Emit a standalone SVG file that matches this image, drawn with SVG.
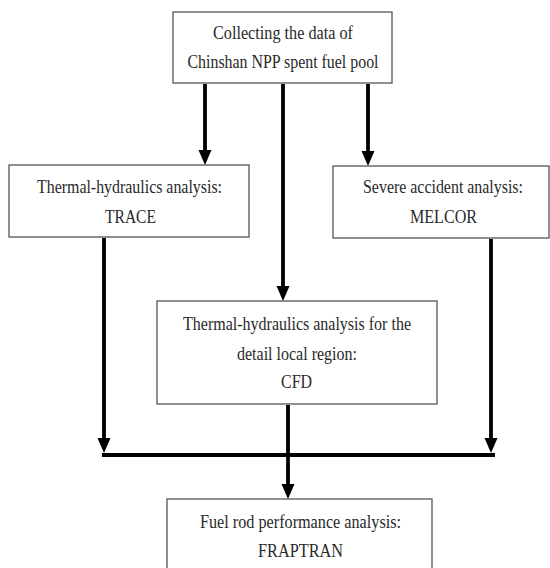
<svg xmlns="http://www.w3.org/2000/svg" width="550" height="568" viewBox="0 0 550 568">
<style>
.box{fill:#fff;stroke:#555;stroke-width:1.3}
.t{font-family:"Liberation Serif","Times New Roman",serif;font-size:18px;fill:#2a2a2a;text-anchor:middle}
.c{stroke:#000;stroke-width:3.8;fill:none}
.ah{fill:#000}
</style>
<rect width="550" height="568" fill="#fff"/>
<g id="connectors">
<line class="c" x1="205" y1="84" x2="205" y2="152"/>
<line class="c" x1="283" y1="84" x2="283" y2="288"/>
<line class="c" x1="368" y1="84" x2="368" y2="153"/>
<line class="c" x1="104" y1="238" x2="104" y2="440"/>
<line class="c" x1="491" y1="239" x2="491" y2="440"/>
<line class="c" x1="102" y1="455" x2="495" y2="455" stroke-width="4.2"/>
<line class="c" x1="288" y1="405" x2="288" y2="486"/>
<path class="ah" d="M198.5,150 L211.5,150 L205,165 Z"/>
<path class="ah" d="M276.5,286 L289.5,286 L283,301 Z"/>
<path class="ah" d="M361.5,151 L374.5,151 L368,166 Z"/>
<path class="ah" d="M97.5,438 L110.5,438 L104,453 Z"/>
<path class="ah" d="M484.5,438 L497.5,438 L491,453 Z"/>
<path class="ah" d="M281.5,484 L294.5,484 L288,499 Z"/>
</g>
<g id="n1">
<rect class="box" x="173" y="12" width="219" height="71"/>
<text class="t" x="283" y="39" textLength="140" lengthAdjust="spacingAndGlyphs">Collecting the data of</text>
<text class="t" x="283" y="68" textLength="191" lengthAdjust="spacingAndGlyphs">Chinshan NPP spent fuel pool</text>
</g>
<g id="n2">
<rect class="box" x="9" y="165" width="240" height="72"/>
<text class="t" x="129.5" y="193" textLength="185" lengthAdjust="spacingAndGlyphs">Thermal-hydraulics analysis:</text>
<text class="t" x="130.5" y="223" textLength="51" lengthAdjust="spacingAndGlyphs">TRACE</text>
</g>
<g id="n3">
<rect class="box" x="333" y="166" width="216" height="72"/>
<text class="t" x="443" y="193" textLength="160" lengthAdjust="spacingAndGlyphs">Severe accident analysis:</text>
<text class="t" x="443.5" y="223" textLength="67" lengthAdjust="spacingAndGlyphs">MELCOR</text>
</g>
<g id="n4">
<rect class="box" x="157" y="301" width="280" height="103"/>
<text class="t" x="297" y="330" textLength="228" lengthAdjust="spacingAndGlyphs">Thermal-hydraulics analysis for the</text>
<text class="t" x="297" y="360" textLength="120" lengthAdjust="spacingAndGlyphs">detail local region:</text>
<text class="t" x="296.5" y="388" textLength="31" lengthAdjust="spacingAndGlyphs">CFD</text>
</g>
<g id="n5">
<rect class="box" x="167" y="499" width="265" height="75"/>
<text class="t" x="300.5" y="528" textLength="201" lengthAdjust="spacingAndGlyphs">Fuel rod performance analysis:</text>
<text class="t" x="300.5" y="557" textLength="85" lengthAdjust="spacingAndGlyphs">FRAPTRAN</text>
</g>
</svg>
